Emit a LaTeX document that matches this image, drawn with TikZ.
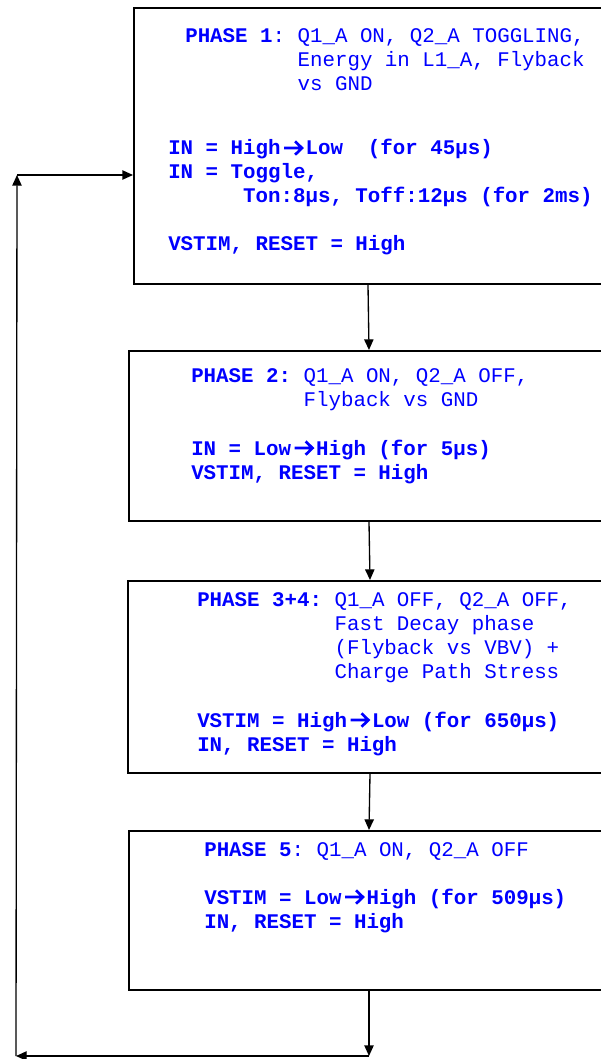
\documentclass[tikz,border=0pt]{standalone}
\usepackage{fontspec}
\setmonofont{Liberation Mono}
\usepackage{tikz}
\usetikzlibrary{arrows.meta,calc,positioning}
\usepackage{xcolor}
\definecolor{Phaseblue}{RGB}{0,0,255}
\newdimen\pxu \pxu=0.75pt
\newcommand{\hilo}{\makebox[1.2em][c]{\tikz[x=1pt,y=1pt,baseline=0pt]
  \draw[Phaseblue,line width=2pt,line join=miter] (0,5.2) -- (13,5.2) (8.2,10.2) -- (13.4,5.2) -- (8.2,0.2);}}

\begin{document}
\begin{tikzpicture}[x=0.75pt,y=-0.75pt,
  phasebox/.style={draw,line width=1.5pt,inner sep=0pt},
  phasetitle/.style={inner sep=0pt,anchor=base west,text=Phaseblue,
    font=\ttfamily\fontsize{15.6pt}{18pt}\selectfont},
  phasebody/.style={phasetitle,font=\ttfamily\bfseries\fontsize{15.6pt}{18pt}\selectfont},
  flow/.style={line width=1pt,-{Triangle[length=8pt,width=7pt]}}]
\useasboundingbox (0,0) rectangle (600,1059);
%
% boxes (right side runs off the page)
\node[phasebox,minimum width=468\pxu,minimum height=276\pxu] (p1) at (368,146) {};
\node[phasebox,minimum width=480\pxu,minimum height=170\pxu] (p2) at (369,436) {};
\node[phasebox,minimum width=484\pxu,minimum height=192\pxu] (p3) at (370,677) {};
\node[phasebox,minimum width=480\pxu,minimum height=159\pxu] (p4) at (369,910.5) {};
%
\node[phasetitle] (t1) at (185,43) {\begin{tabular}[t]{@{}l@{}l@{}}
  \textbf{PHASE 1}:~ & Q1\_A ON, Q2\_A TOGGLING,\\
   & Energy in L1\_A, Flyback\\
   & vs GND\end{tabular}};
\node[phasebody] (b1) at (168,155) {\begin{tabular}[t]{@{}l@{}}
  IN = High\hilo Low~~(for 45µs)\\
  IN = Toggle,\\
  ~~~~~~Ton:8µs, Toff:12µs (for 2ms)\\
  \\
  VSTIM, RESET = High\end{tabular}};
%
\node[phasetitle] (t2) at (191,382) {\begin{tabular}[t]{@{}l@{}l@{}}
  \textbf{PHASE 2:}~ & Q1\_A ON, Q2\_A OFF,\\
   & Flyback vs GND\end{tabular}};
\node[phasebody] (b2) at (191,455) {\begin{tabular}[t]{@{}l@{}}
  IN = Low\hilo High (for 5µs)\\
  VSTIM, RESET = High\end{tabular}};
%
\node[phasetitle] (t3) at (197,606) {\begin{tabular}[t]{@{}l@{}l@{}}
  \textbf{PHASE 3+4:}~ & Q1\_A OFF, Q2\_A OFF,\\
   & Fast Decay phase\\
   & (Flyback vs VBV) +\\
   & Charge Path Stress\end{tabular}};
\node[phasebody] (b3) at (197,727) {\begin{tabular}[t]{@{}l@{}}
  VSTIM = High\hilo Low (for 650µs)\\
  IN, RESET = High\end{tabular}};
%
\node[phasetitle] (t4) at (204,856) {\textbf{PHASE 5}: Q1\_A ON, Q2\_A OFF};
\node[phasebody] (b4) at (204,904) {\begin{tabular}[t]{@{}l@{}}
  VSTIM = Low\hilo High (for 509µs)\\
  IN, RESET = High\end{tabular}};
%
% loop back
\coordinate (loopdown) at (369,1056);
\coordinate (loopleft) at (16,1056);
\coordinate (loopup) at (17,175);
\draw[flow] (p1.south) -- (p2.north);
\draw[flow] (p2.south) -- (p3.north);
\draw[flow] (p3.south) -- (p4.north);
\draw[flow] (p4.south) -- (loopdown);
\draw[flow] (loopdown) -- (loopleft);
\draw[flow] (loopleft) -- (loopup);
\draw[flow] (loopup) -- (loopup -| p1.west);
%
\end{tikzpicture}
\end{document}
